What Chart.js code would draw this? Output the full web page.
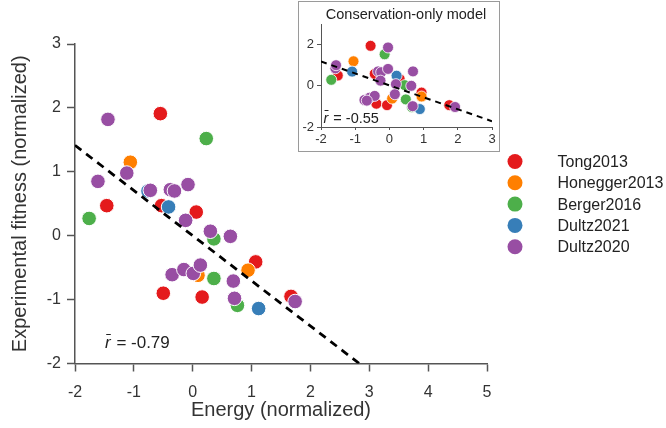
<!DOCTYPE html>
<html><head><meta charset="utf-8">
<script src="https://cdn.jsdelivr.net/npm/chart.js@4.4.1/dist/chart.umd.min.js"></script>
<style>
html,body{margin:0;padding:0;background:#fff;}
#wrap{position:relative;width:666px;height:428px;overflow:hidden;}
#main{position:absolute;left:0;top:0;}
#insetBox{position:absolute;left:298px;top:1px;width:202px;height:151px;box-sizing:border-box;border:1px solid #9a9a9a;background:#fff;}
#inset{position:absolute;left:0;top:0;}
</style></head>
<body><div id="wrap"><canvas id="main" width="666" height="428"></canvas>
<div id="insetBox"><canvas id="inset" width="200" height="149"></canvas></div></div>
<script>
// ---------- data: main panel (energy vs fitness) ----------
const seriesNames = ['Tong2013', 'Honegger2013', 'Berger2016', 'Dultz2021', 'Dultz2020'];
const seriesColors = ['#E41A1C', '#FF7F00', '#4DAF4A', '#377EB8', '#984EA3'];

const tongX = [-0.55, -1.46, -0.53, 0.06, 1.07, -0.50, 0.16, 1.67];
const tongY = [1.91, 0.47, 0.47, 0.37, -0.41, -0.90, -0.96, -0.95];
const honX = [-1.06, 0.09, 0.94];
const honY = [1.15, -0.62, -0.54];
const bergX = [0.23, -1.76, 0.36, 0.36, 0.76];
const bergY = [1.52, 0.27, -0.05, -0.67, -1.09];
const d21X = [-0.76, -0.41, 1.12];
const d21Y = [0.70, 0.45, -1.14];
const d20X = [-1.44, -1.61, -1.12, -0.72, -0.38, -0.31, -0.08, -0.12, 0.30, 0.64, -0.35, -0.15, 0.01, 0.13, 0.69, 0.71, 1.74];
const d20Y = [1.82, 0.85, 0.98, 0.71, 0.72, 0.70, 0.80, 0.24, 0.07, -0.01, -0.61, -0.53, -0.59, -0.46, -0.71, -0.98, -1.03];
const fitLineX = [-2, 2.83];
const fitLineY = [1.414, -2];
const mainR = '-0.79';

// ---------- data: inset (conservation-only model) ----------
const cTongX = [-0.55, -1.51, -0.43, 0.30, 0.94, -0.38, -0.07, 1.75];
const cTongY = [1.94, 0.50, 0.58, 0.33, -0.33, -0.87, -0.94, -0.94];
const cHonX = [-1.05, 0.08, 0.94];
const cHonY = [1.19, -0.62, -0.52];
const cBergX = [-0.14, -1.70, 0.45, 0.48, 0.66];
const cBergY = [1.53, 0.29, 0.03, -0.66, -1.04];
const cD21X = [-1.09, 0.21, 0.89];
const cD21Y = [0.69, 0.49, -1.13];
const cD20X = [-0.04, -1.58, -1.56, -0.33, 0.69, -0.24, -0.04, -0.26, 0.19, 0.64, -0.73, -0.58, -0.43, 0.16, -0.66, 0.68, 1.92];
const cD20Y = [1.86, 0.85, 1.00, 0.70, 0.70, 0.66, 0.82, 0.25, 0.08, 0.00, -0.69, -0.58, -0.49, -0.41, -0.72, -0.99, -1.03];
const cFitLineX = [-2, 3];
const cFitLineY = [1.18, -1.72];
const insetR = '-0.55';
const insetTitle = 'Conservation-only model';

const xTitle = 'Energy (normalized)';
const yTitle = 'Experimental fitness (normalized)';

const FONT = "'Liberation Sans', Arial, sans-serif";
Chart.defaults.font.family = FONT;
Chart.defaults.color = '#333';

function pts(xs, ys) { return xs.map((x, i) => ({x: x, y: ys[i]})); }

function buildDatasets(groups, radius, bw, line, lineW, dash) {
  const ds = groups.map((g, i) => ({
    label: seriesNames[i],
    data: pts(g[0], g[1]),
    backgroundColor: seriesColors[i],
    borderColor: '#ffffff',
    pointRadius: radius,
    pointHoverRadius: radius,
    pointBorderWidth: bw,
    order: 5 - i
  }));
  ds.push({
    label: 'fit',
    data: pts(line[0], line[1]),
    showLine: true,
    borderColor: '#000',
    borderWidth: lineW,
    borderDash: dash,
    pointRadius: 0,
    fill: false,
    order: 0
  });
  return ds;
}

function drawRbar(ctx, x, baseline, size, value) {
  ctx.save();
  ctx.fillStyle = '#222';
  ctx.textBaseline = 'alphabetic';
  ctx.textAlign = 'left';
  ctx.font = 'italic ' + size + 'px ' + FONT;
  const r = 'r\u0304';
  ctx.fillText(r, x, baseline);
  const w = ctx.measureText('r').width;
  ctx.font = size + 'px ' + FONT;
  ctx.fillText(' = ' + value, x + w + 1, baseline);
  ctx.restore();
}

const mainPlugin = {
  id: 'mainExtras',
  afterDraw(chart) {
    const ctx = chart.ctx;
    // legend
    ctx.save();
    ctx.font = '16px ' + FONT;
    ctx.textBaseline = 'middle';
    ctx.textAlign = 'left';
    seriesNames.forEach((n, i) => {
      const y = 161.5 + i * 21.3;
      ctx.beginPath();
      ctx.arc(515, y, 7.5, 0, Math.PI * 2);
      ctx.fillStyle = seriesColors[i];
      ctx.fill();
      ctx.fillStyle = '#222';
      ctx.fillText(n, 557.5, y + 1);
    });
    ctx.restore();
    drawRbar(ctx, 105, 348, 17, mainR);
  }
};

new Chart(document.getElementById('main'), {
  type: 'scatter',
  data: {
    datasets: buildDatasets([[tongX, tongY], [honX, honY], [bergX, bergY], [d21X, d21Y], [d20X, d20Y]],
      7.3, 1, [fitLineX, fitLineY], 2.8, [8, 6])
  },
  options: {
    responsive: false,
    animation: false,
    events: [],
    layout: {padding: {left: 0, top: 44, right: 179, bottom: 0}},
    plugins: {legend: {display: false}, tooltip: {enabled: false}, title: {display: false}},
    scales: {
      x: {
        type: 'linear', min: -2, max: 5,
        ticks: {stepSize: 1, font: {size: 16}, color: '#333', padding: 11},
        grid: {drawOnChartArea: false, drawTicks: true, tickLength: 8, tickColor: '#555', tickWidth: 1.5},
        border: {display: true, color: '#555', width: 1.5},
        title: {display: true, text: xTitle, font: {size: 20}, color: '#333', padding: {top: 0, bottom: 6}},
        afterFit(s) { s.height = 64.5; }
      },
      y: {
        type: 'linear', min: -2, max: 3,
        ticks: {stepSize: 1, font: {size: 16}, color: '#333', padding: 6},
        grid: {drawOnChartArea: false, drawTicks: true, tickLength: 8, tickColor: '#555', tickWidth: 1.5},
        border: {display: true, color: '#555', width: 1.5},
        title: {display: true, text: yTitle, font: {size: 20}, color: '#333', padding: {top: 8, bottom: 0}},
        afterFit(s) { s.width = 75; }
      }
    }
  },
  plugins: [mainPlugin]
});

const insetPlugin = {
  id: 'insetExtras',
  afterDraw(chart) {
    const ctx = chart.ctx;
    ctx.save();
    ctx.font = '14.5px ' + FONT;
    ctx.fillStyle = '#222';
    ctx.textAlign = 'center';
    ctx.textBaseline = 'alphabetic';
    ctx.fillText(insetTitle, 107, 17);
    ctx.restore();
    drawRbar(ctx, 24.5, 120.5, 14.5, insetR);
  }
};

new Chart(document.getElementById('inset'), {
  type: 'scatter',
  data: {
    datasets: buildDatasets([[cTongX, cTongY], [cHonX, cHonY], [cBergX, cBergY], [cD21X, cD21Y], [cD20X, cD20Y]],
      5.5, 0.8, [cFitLineX, cFitLineY], 2, [6, 5])
  },
  options: {
    responsive: false,
    animation: false,
    events: [],
    layout: {padding: {left: 0, top: 22, right: 7, bottom: 0}},
    plugins: {legend: {display: false}, tooltip: {enabled: false}, title: {display: false}},
    scales: {
      x: {
        type: 'linear', min: -2, max: 3,
        ticks: {stepSize: 1, font: {size: 13}, color: '#333', padding: 2},
        grid: {drawOnChartArea: false, drawTicks: true, tickLength: 3, tickColor: '#555', tickWidth: 1},
        border: {display: true, color: '#555', width: 1},
        afterFit(s) { s.height = 24; }
      },
      y: {
        type: 'linear', min: -2, max: 3,
        ticks: {stepSize: 1, font: {size: 13}, color: '#333', padding: 3},
        afterBuildTicks(s) { s.ticks = s.ticks.filter(t => t.value === -2 || t.value === 0 || t.value === 2); },
        grid: {drawOnChartArea: false, drawTicks: true, tickLength: 4, tickColor: '#555', tickWidth: 1},
        border: {display: true, color: '#555', width: 1},
        afterFit(s) { s.width = 22; }
      }
    }
  },
  plugins: [insetPlugin]
});
</script>
</body></html>
